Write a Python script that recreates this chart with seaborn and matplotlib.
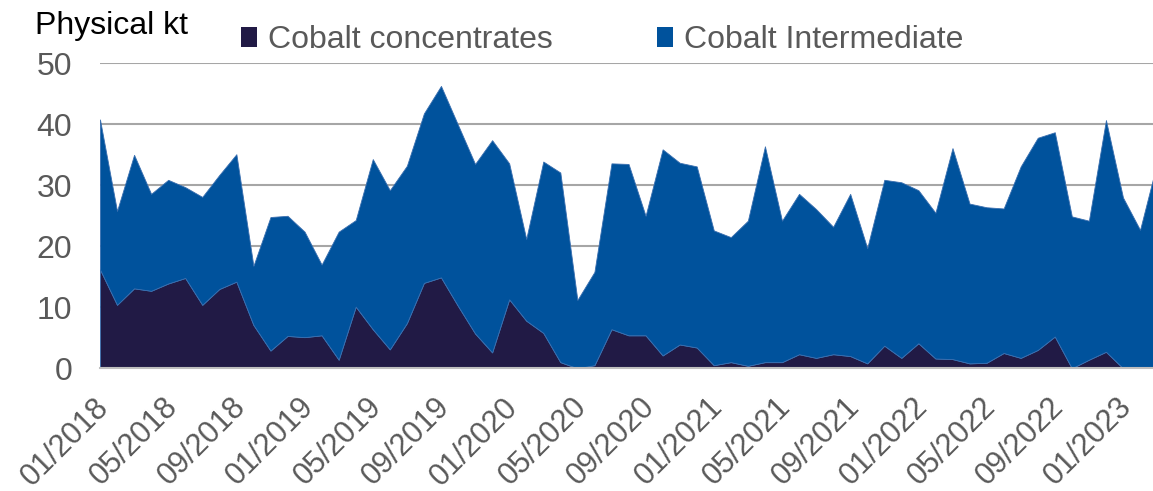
import numpy as np
import pandas as pd
import seaborn as sns
import matplotlib.pyplot as plt
import matplotlib.transforms as mtransforms
from matplotlib.patches import Patch

# monthly imports, physical kt
months = pd.date_range('2018-01-01', periods=63, freq='MS')
total = [40.8, 25.8, 35.0, 28.6, 30.9, 29.7, 28.1, 31.7, 35.1, 16.8,
         24.8, 25.0, 22.4, 17.0, 22.4, 24.3, 34.3, 29.2, 33.2, 41.8,
         46.3, 39.9, 33.5, 37.4, 33.6, 21.2, 33.9, 32.1, 11.2, 15.8,
         33.6, 33.5, 25.0, 35.9, 33.7, 33.1, 22.6, 21.5, 24.2, 36.4,
         24.2, 28.6, 26.1, 23.2, 28.6, 19.7, 30.9, 30.5, 29.2, 25.5,
         36.1, 27.0, 26.4, 26.2, 33.1, 37.8, 38.7, 24.9, 24.2, 40.7,
         28.0, 22.7, 33.7]
concentrates = [16.2, 10.4, 13.1, 12.7, 13.9, 14.8, 10.4, 13.0, 14.2, 7.1,
                2.9, 5.3, 5.1, 5.4, 1.4, 10.1, 6.4, 3.1, 7.4, 14.0,
                14.9, 10.2, 5.7, 2.6, 11.3, 7.8, 5.8, 1.0, 0.0, 0.5,
                6.4, 5.4, 5.4, 2.1, 3.9, 3.4, 0.5, 1.0, 0.4, 1.0,
                1.0, 2.3, 1.7, 2.3, 2.0, 0.8, 3.7, 1.7, 4.1, 1.6,
                1.5, 0.8, 0.9, 2.5, 1.7, 3.0, 5.2, 0.0, 1.4, 2.7,
                0.0, 0.0, 0.0]
tick_labels = ['01/2018', '05/2018', '09/2018', '01/2019', '05/2019', '09/2019',
               '01/2020', '05/2020', '09/2020', '01/2021', '05/2021', '09/2021',
               '01/2022', '05/2022', '09/2022', '01/2023']
series = ['Cobalt concentrates', 'Cobalt Intermediate']
colors = ['#211a45', '#00529c']

df = pd.DataFrame({'month': months, 'total': total, 'conc': concentrates})
df['inter'] = df['total'] - df['conc']
df['pos'] = np.arange(len(df))

sns.set_style('white')
plt.rcParams['font.family'] = ['Liberation Sans', 'DejaVu Sans']

fig = plt.figure(figsize=(11.53, 4.91), dpi=100)
ax = fig.add_axes([0.0867, 0.25, 0.9133, 0.621])

ax.stackplot(df['pos'], df['conc'], df['inter'], colors=colors,
             edgecolor='#3a6fb0', linewidth=0.6, zorder=2)

# grid and axes
ax.set_ylim(0, 50)
ax.set_xlim(0, 61.76)
ax.set_yticks([0, 10, 20, 30, 40, 50])
ax.yaxis.grid(True, color='#a6a6a6', linewidth=1.5, zorder=0)
ax.set_axisbelow(True)
for s in ['top', 'right', 'left']:
    ax.spines[s].set_visible(False)
ax.spines['bottom'].set_color('#bfbfbf')
ax.spines['bottom'].set_linewidth(1.5)
ax.spines['bottom'].set_zorder(3)

ax.set_xticks(df['pos'][::4])
ax.set_xticklabels(tick_labels, rotation=45, ha='right', rotation_mode='anchor')
ax.tick_params(axis='x', length=0, pad=15, labelsize=22, labelcolor='#595959')
ax.tick_params(axis='y', length=0, pad=20, labelsize=23, labelcolor='#595959')
# nudge the rotated labels a little left/down
shift = mtransforms.ScaledTranslation(-6 / 100, -3 / 100, fig.dpi_scale_trans)
for lab in ax.get_xticklabels():
    lab.set_transform(lab.get_transform() + shift)
ax.set_xlabel('')
ax.set_ylabel('')

fig.text(0.030, 0.948, 'Physical kt', fontsize=23, color='black', va='center')

handles = [Patch(facecolor=c, edgecolor='none') for c in colors]
fig.legend(handles, series, loc='center left', bbox_to_anchor=(0.209, 0.918),
           ncol=2, frameon=False, fontsize=23, labelcolor='#595959',
           handlelength=0.5, handleheight=0.55, handletextpad=0.35,
           columnspacing=3.25, borderaxespad=0, borderpad=0)

fig.savefig('out.png', dpi=100)
